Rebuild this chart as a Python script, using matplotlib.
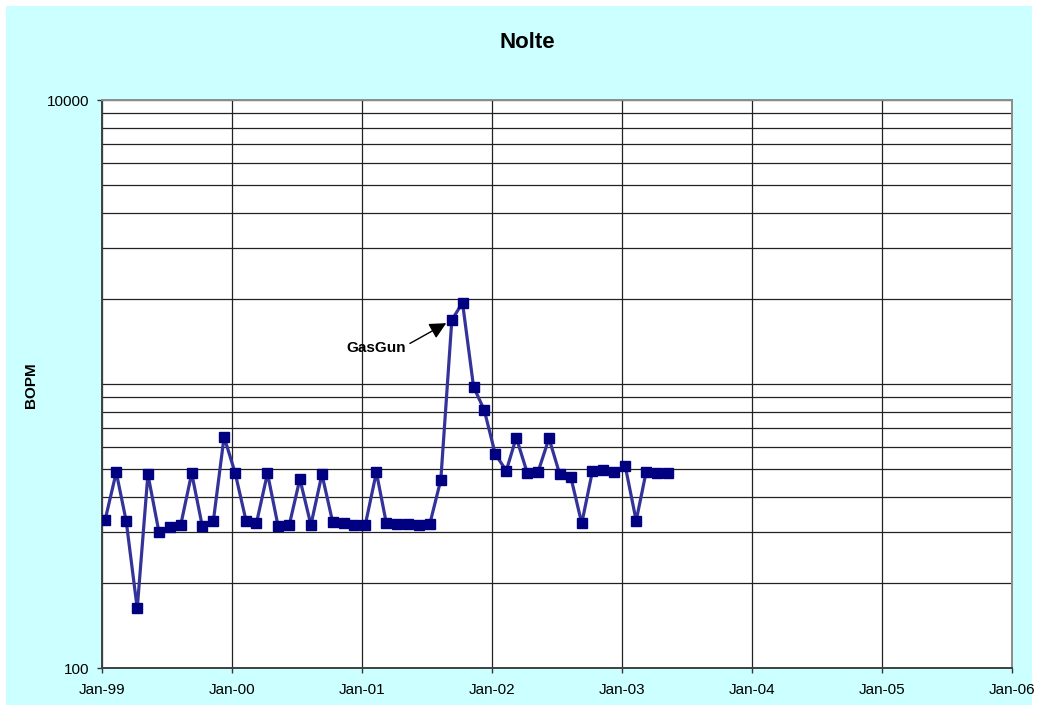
import numpy as np
import pandas as pd
import matplotlib
matplotlib.use("Agg")
import matplotlib.pyplot as plt
import matplotlib.dates as mdates
from matplotlib.patches import Rectangle
from matplotlib.ticker import LogLocator, NullFormatter, FixedLocator

plt.rcParams["font.family"] = ["Liberation Sans", "DejaVu Sans"]

# monthly oil production (BOPM), Dec-98 .. May-03
bopm = [330,
        333, 489, 329, 162, 481, 301, 314, 318, 485, 315, 330, 651,
        487, 329, 324, 485, 315, 318, 463, 319, 481, 327, 325, 318,
        320, 489, 323, 321, 322, 319, 321, 460, 1680, 1933, 978, 810,
        567, 495, 648, 486, 489, 644, 482, 472, 323, 493, 497, 488,
        516, 330, 491, 485, 485]
months = pd.date_range("1998-12-01", periods=len(bopm), freq="MS") + pd.Timedelta(days=9)

year_ticks = pd.date_range("1999-01-01", "2006-01-01", freq="YS")
title = "Nolte"
ylabel = "BOPM"
note = "GasGun"
note_idx = 33   # Sep-01 point

fig = plt.figure(figsize=(10.39, 7.10), dpi=100)
fig.patch.set_facecolor("white")
fig.patches.append(Rectangle((6 / 1039, 1 - 705 / 710), 1026 / 1039, 699 / 710,
                             transform=fig.transFigure, facecolor="#CCFFFF",
                             edgecolor="none", zorder=-10))

ax = fig.add_axes([102 / 1039, 1 - 668 / 710, 910 / 1039, 568 / 710])
ax.set_zorder(1)
ax.set_facecolor("white")
ax.set_yscale("log")
ax.set_ylim(100, 10000)
ax.set_xlim(year_ticks[0], year_ticks[-1])

# grid: every log step on y, every January on x
ax.yaxis.set_major_locator(FixedLocator([100, 10000]))
ax.yaxis.set_major_formatter(matplotlib.ticker.FuncFormatter(lambda v, p: f"{v:.0f}"))
ax.yaxis.set_minor_locator(LogLocator(base=10, subs=np.arange(1, 10)))
ax.yaxis.set_minor_formatter(NullFormatter())
ax.grid(True, which="both", axis="y", color="#222222", lw=0.9)
ax.xaxis.set_major_locator(FixedLocator(mdates.date2num(year_ticks)))
ax.xaxis.set_major_formatter(mdates.DateFormatter("%b-%y"))
ax.grid(True, which="major", axis="x", color="#222222", lw=0.9)
ax.set_axisbelow(True)

ax.tick_params(axis="both", which="major", direction="out", length=3.6, width=1,
               labelsize=11, colors="#333333", labelcolor="black")
ax.tick_params(axis="y", which="minor", length=0)
ax.tick_params(axis="x", pad=7.4)
ax.tick_params(axis="y", pad=5.8)

for s in ("left", "bottom"):
    ax.spines[s].set_color("#404040")
    ax.spines[s].set_linewidth(1.4)
for s in ("top", "right"):
    ax.spines[s].set_color("#8c8c8c")
    ax.spines[s].set_linewidth(1.4)

ax.plot(months, bopm, color="#333399", lw=2.3, marker="s", markersize=7.2,
        markerfacecolor="#000080", markeredgecolor="#000080", zorder=3)

ax.annotate(note, xy=(months[note_idx], bopm[note_idx]), xycoords="data",
            xytext=(-76, -20), textcoords="offset points",
            ha="left", va="center", fontsize=11, fontweight="bold",
            arrowprops=dict(arrowstyle="-|>,head_length=0.5,head_width=0.25",
                            color="black", lw=1, mutation_scale=20,
                            relpos=(1.0, 0.65), shrinkA=1, shrinkB=4.6))

fig.text(527 / 1039, 1 - 42 / 710, title, ha="center", va="center",
         fontsize=16, fontweight="bold")
fig.text(31 / 1039, 1 - 385 / 710, ylabel, ha="center", va="center",
         rotation=90, fontsize=11, fontweight="bold")

fig.savefig("out.png", dpi=100)
